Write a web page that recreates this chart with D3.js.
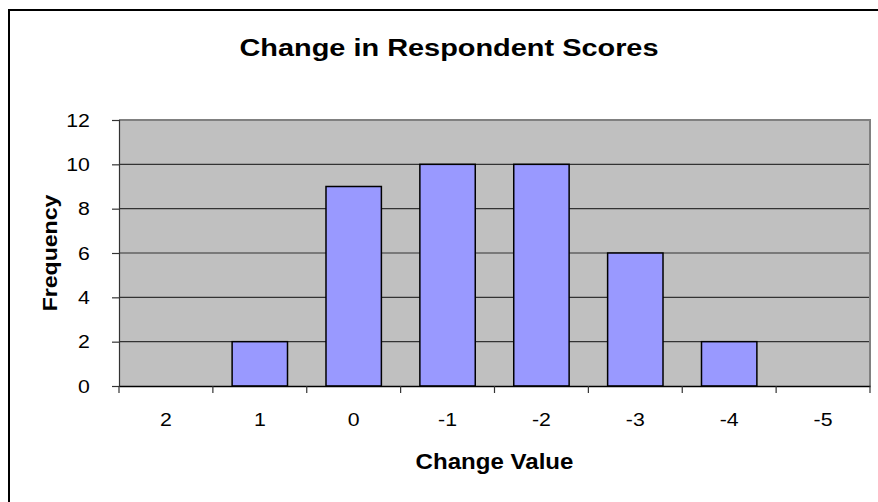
<!DOCTYPE html>
<html>
<head>
<meta charset="utf-8">
<script src="https://cdn.jsdelivr.net/npm/d3@7"></script>
<style>
  body { margin: 0; background: #fff; }
  svg { display: block; font-family: Arial, "Liberation Sans", sans-serif; }
</style>
</head>
<body>
<svg width="878" height="502"></svg>
<script>
// chart data
var changeValues = ['2', '1', '0', '-1', '-2', '-3', '-4', '-5'];
var frequencies = [0, 2, 9, 10, 10, 6, 2, 0];
var yTicks = [0, 2, 4, 6, 8, 10, 12];

var svg = d3.select("svg");

// plot area edges
var plotLeft = 119, plotRight = 870, plotTop = 120, plotBottom = 386;

// outer chart border (cropped at right and bottom)
svg.append("rect")
    .attr("x", 9).attr("y", 10)
    .attr("width", 900).attr("height", 520)
    .attr("fill", "none")
    .attr("stroke", "#000")
    .attr("stroke-width", 2);

var x = d3.scaleBand()
    .domain(changeValues)
    .range([plotLeft, plotRight])
    .paddingInner(0.41)
    .paddingOuter(0.205);

var y = d3.scaleLinear()
    .domain([0, 12])
    .range([plotBottom, plotTop]);

// grey background
svg.append("rect")
    .attr("x", plotLeft).attr("y", plotTop)
    .attr("width", plotRight - plotLeft).attr("height", plotBottom - plotTop)
    .attr("fill", "#c0c0c0");

// gridlines
svg.append("g")
    .selectAll("line")
    .data(yTicks.slice(1))
    .enter().append("line")
    .attr("x1", plotLeft).attr("x2", plotRight)
    .attr("y1", function(d) { return y(d); })
    .attr("y2", function(d) { return y(d); })
    .attr("stroke", "#333")
    .attr("stroke-width", 1.2);

// plot border top/right
svg.append("path")
    .attr("d", "M" + plotLeft + "," + plotTop + "H" + plotRight + "V" + plotBottom)
    .attr("fill", "none")
    .attr("stroke", "#808080")
    .attr("stroke-width", 2);

// bars (zero-height ones are not drawn)
var barData = changeValues.map(function(c, i) {
    return {cat: c, value: frequencies[i]};
}).filter(function(d) { return d.value > 0; });

svg.append("g")
    .selectAll("rect")
    .data(barData)
    .enter().append("rect")
    .attr("x", function(d) { return x(d.cat); })
    .attr("y", function(d) { return y(d.value); })
    .attr("width", x.bandwidth())
    .attr("height", function(d) { return y(0) - y(d.value); })
    .attr("fill", "#9999ff")
    .attr("stroke", "#000")
    .attr("stroke-width", 1.5);

// y axis
var yAxis = svg.append("g")
    .attr("transform", "translate(" + plotLeft + ",0)")
    .call(d3.axisLeft(y).tickValues(yTicks).tickSize(7).tickPadding(19));
yAxis.select(".domain").attr("stroke", "#333").attr("stroke-width", 1.2);
yAxis.selectAll(".tick line").attr("stroke", "#333").attr("stroke-width", 1.2);
yAxis.selectAll("text")
    .attr("font-size", 19)
    .attr("font-family", "Arial, 'Liberation Sans', sans-serif")
    .attr("fill", "#000")
    .attr("transform", "scale(1.12,1)");

// x axis: line, boundary ticks, labels
var xAxis = svg.append("g")
    .attr("transform", "translate(0," + plotBottom + ")")
    .call(d3.axisBottom(x).tickSize(0).tickPadding(27));
xAxis.select(".domain").attr("stroke", "#000").attr("stroke-width", 1.5);
xAxis.selectAll("text")
    .attr("font-size", 19)
    .attr("font-family", "Arial, 'Liberation Sans', sans-serif")
    .attr("fill", "#000")
    .attr("transform", "scale(1.12,1)");

var bounds = d3.range(changeValues.length + 1).map(function(i) {
    return x.range()[0] + i * x.step();
});
xAxis.selectAll(".bound")
    .data(bounds)
    .enter().append("line")
    .attr("class", "bound")
    .attr("x1", function(d) { return d; })
    .attr("x2", function(d) { return d; })
    .attr("y1", 0).attr("y2", 7)
    .attr("stroke", "#333")
    .attr("stroke-width", 1.2);

// titles, slightly widened like the original rendering
function label(tx, ty, rot, size, sx, txt) {
    svg.append("g")
        .attr("transform", "translate(" + tx + "," + ty + ") rotate(" + rot + ") scale(" + sx + ",1)")
        .append("text")
        .attr("text-anchor", "middle")
        .attr("font-size", size)
        .attr("font-weight", "bold")
        .attr("fill", "#000")
        .text(txt);
}

label(449, 56, 0, 24.5, 1.18, "Change in Respondent Scores");
label((plotLeft + plotRight) / 2, 469, 0, 21.5, 1.12, "Change Value");
label(57, (plotTop + plotBottom) / 2, -90, 21, 1.1, "Frequency");
</script>
</body>
</html>
